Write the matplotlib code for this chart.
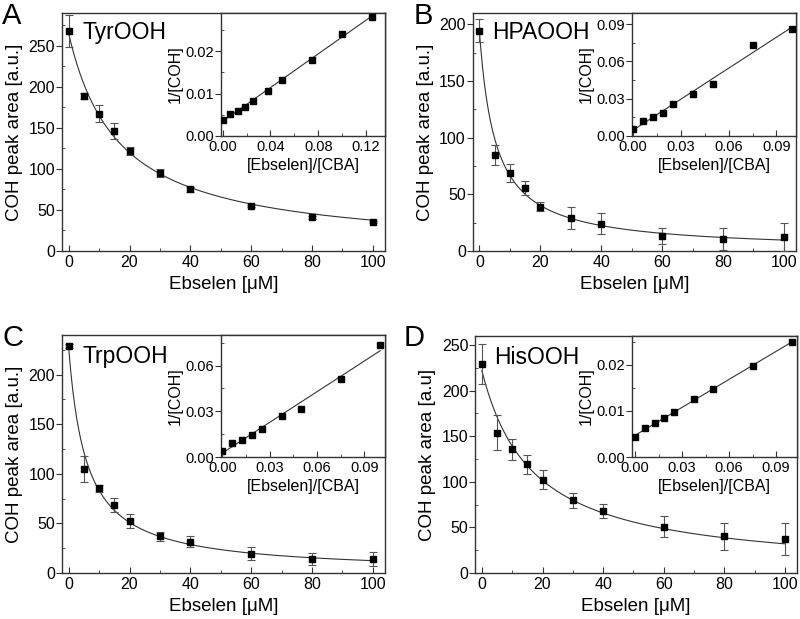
import numpy as np
import matplotlib
matplotlib.use('Agg')
import matplotlib.pyplot as plt
from matplotlib.ticker import MultipleLocator, FormatStrFormatter

plt.rcParams['font.family'] = ['Liberation Sans', 'DejaVu Sans']

# Ebselen concentration (uM), same for all panels
ebselen = [0, 5, 10, 15, 20, 30, 40, 60, 80, 100]

# main panels: COH peak area and error bars
tyr_y = [268, 189, 167.5, 146, 122, 95, 75, 55, 41, 35.4]
tyr_err = [19, 4, 10, 10, 5, 5, 2.5, 1.5, 1.5, 1.5]
hpa_y = [194.4, 84.5, 68.8, 55.8, 39, 29, 24.2, 13.3, 10.6, 12.4]
hpa_err = [10, 9, 8, 6, 4, 10, 9.3, 7, 10, 12.5]
trp_y = [229, 105, 85.3, 68.5, 52.6, 37.1, 31.7, 19.6, 14.2, 14.2]
trp_err = [2, 13, 3.4, 6.7, 7, 4.7, 5.4, 6.7, 6, 7]
his_y = [228.8, 154, 135.8, 119, 102.5, 79.8, 68, 50.5, 40.3, 37.7]
his_err = [22, 19, 11.5, 10, 10.4, 8, 7.5, 11.5, 14.6, 17.5]

# insets: 1/[COH] vs [Ebselen]/[CBA]
ratio10 = [0, 0.00625, 0.0125, 0.01875, 0.025, 0.0375, 0.05, 0.075, 0.1, 0.125]
ratio9 = [0, 0.00625, 0.0125, 0.01875, 0.025, 0.0375, 0.05, 0.075, 0.1]
tyr_inv = [0.0038, 0.0052, 0.0060, 0.0068, 0.0082, 0.0106, 0.0133, 0.0180, 0.0241, 0.0281]
hpa_inv = [0.0059, 0.0124, 0.0151, 0.0184, 0.0257, 0.0340, 0.0416, 0.0730, 0.0865]
trp_inv = [0.0042, 0.0092, 0.0114, 0.0145, 0.0186, 0.0270, 0.0316, 0.0515, 0.0735]
his_inv = [0.00433, 0.0064, 0.00736, 0.0084, 0.0097, 0.01256, 0.0147, 0.0198, 0.02505]

panels = [
    dict(letter='A', name='TyrOOH', y=tyr_y, err=tyr_err, ylim=290, ystep=50,
         ylabel='COH peak area [a.u.]', ix=ratio10, iy=tyr_inv,
         ixlim=(-0.0015, 0.136), ixstep=0.04, iylim=0.029, iystep=0.01,
         main=[0.0775, 0.5945, 0.40375, 0.3845], ins=[0.27625, 0.7803, 0.205, 0.1987],
         name_pos=(0.065, 0.916), letter_pos=(0.003, 0.997)),
    dict(letter='B', name='HPAOOH', y=hpa_y, err=hpa_err, ylim=210, ystep=50,
         ylabel='COH peak area [a.u.]', ix=ratio9, iy=hpa_inv,
         ixlim=(-0.0007, 0.1023), ixstep=0.03, iylim=0.099, iystep=0.03,
         main=[0.591, 0.5945, 0.404, 0.3845], ins=[0.79, 0.7803, 0.205, 0.1987],
         name_pos=(0.061, 0.916), letter_pos=(0.517, 0.997)),
    dict(letter='C', name='TrpOOH', y=trp_y, err=trp_err, ylim=240, ystep=50,
         ylabel='COH peak area [a.u.]', ix=ratio9, iy=trp_inv,
         ixlim=(-0.0008, 0.103), ixstep=0.03, iylim=0.080, iystep=0.03,
         main=[0.0775, 0.0743, 0.40375, 0.3845], ins=[0.27625, 0.2617, 0.205, 0.197],
         name_pos=(0.065, 0.909), letter_pos=(0.003, 0.476)),
    dict(letter='D', name='HisOOH', y=his_y, err=his_err, ylim=260, ystep=50,
         ylabel='COH peak area [a.u]', ix=ratio9, iy=his_inv,
         ixlim=(-0.002, 0.1035), ixstep=0.03, iylim=0.0263, iystep=0.01,
         main=[0.594, 0.0743, 0.4025, 0.383], ins=[0.79, 0.2617, 0.2065, 0.1955],
         name_pos=(0.059, 0.909), letter_pos=(0.504, 0.476)),
]

spine_c = '#333333'


def style(ax, fs):
    for s in ax.spines.values():
        s.set_color(spine_c)
        s.set_linewidth(1.0)
    ax.tick_params(axis='x', which='both', direction='in', color=spine_c, labelsize=fs, pad=3)
    ax.tick_params(axis='x', which='major', length=4)
    ax.tick_params(axis='x', which='minor', length=2.5)
    ax.tick_params(axis='y', which='major', direction='out', length=4, color=spine_c, labelsize=fs, pad=1)
    ax.tick_params(axis='y', which='minor', direction='in', length=2.5, color=spine_c)


fig = plt.figure(figsize=(8, 6.19), dpi=100)
x = np.array(ebselen, dtype=float)

for p in panels:
    ax = fig.add_axes(p['main'])
    y = np.array(p['y'])
    # hyperbolic fit: 1/y linear in x, weighted so it approximates least squares in y
    a, b = np.polyfit(x, 1 / y, 1, w=y ** 2)
    xf = np.linspace(0, 100, 300)
    ax.plot(xf, 1 / (a * xf + b), color='#333333', lw=0.8, zorder=2)
    ax.errorbar(x, y, yerr=p['err'], fmt='none', ecolor='#555555', elinewidth=0.8,
                capsize=3, capthick=0.8, zorder=3)
    ax.plot(x, y, 's', color='black', ms=5, zorder=4)
    ax.set_xlim(-2.2, 104)
    ax.set_ylim(0, p['ylim'])
    ax.xaxis.set_major_locator(MultipleLocator(20))
    ax.xaxis.set_minor_locator(MultipleLocator(10))
    ax.yaxis.set_major_locator(MultipleLocator(p['ystep']))
    ax.yaxis.set_minor_locator(MultipleLocator(p['ystep'] / 2))
    style(ax, 11.5)
    ax.set_xlabel('Ebselen [\u03bcM]', fontsize=13.5, labelpad=4)
    ax.set_ylabel(p['ylabel'], fontsize=13.5, labelpad=4)
    ax.text(p['name_pos'][0], p['name_pos'][1], p['name'], transform=ax.transAxes,
            fontsize=16.5, va='center', ha='left')
    fig.text(p['letter_pos'][0], p['letter_pos'][1], p['letter'], fontsize=21,
             va='top', ha='left')

    ins = fig.add_axes(p['ins'])
    ix = np.array(p['ix'])
    iy = np.array(p['iy'])
    m, c = np.polyfit(ix, iy, 1)
    xl = np.array([0, ix.max()])
    ins.plot(xl, m * xl + c, color='#333333', lw=0.8, zorder=2)
    ins.plot(ix, iy, 's', color='black', ms=4.5, zorder=3)
    ins.set_xlim(*p['ixlim'])
    ins.set_ylim(0, p['iylim'])
    ins.xaxis.set_major_locator(MultipleLocator(p['ixstep']))
    ins.xaxis.set_minor_locator(MultipleLocator(p['ixstep'] / 2))
    ins.yaxis.set_major_locator(MultipleLocator(p['iystep']))
    ins.yaxis.set_minor_locator(MultipleLocator(p['iystep'] / 2))
    ins.xaxis.set_major_formatter(FormatStrFormatter('%.2f'))
    ins.yaxis.set_major_formatter(FormatStrFormatter('%.2f'))
    style(ins, 10.5)
    ins.set_xlabel('[Ebselen]/[CBA]', fontsize=11.5, labelpad=3)
    ins.set_ylabel('1/[COH]', fontsize=11.5, labelpad=2)

fig.savefig('out.png', dpi=100)
